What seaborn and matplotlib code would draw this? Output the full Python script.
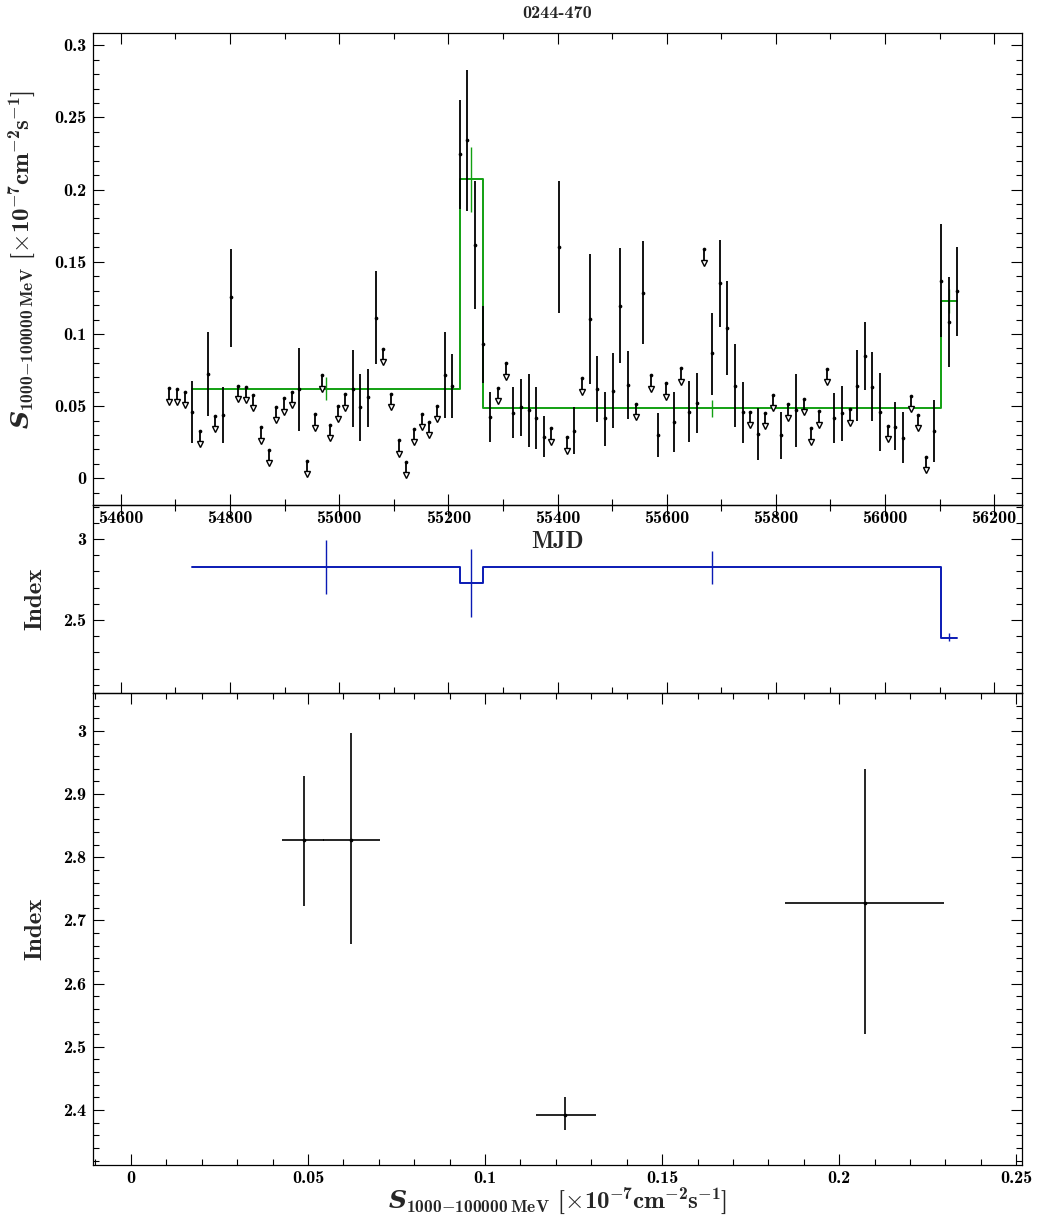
import numpy as np
import matplotlib
matplotlib.use("Agg")
import matplotlib.pyplot as plt
import seaborn as sns
from matplotlib.ticker import MultipleLocator, FuncFormatter

# ---------------- data ----------------
mjd = [54689, 54703, 54717, 54731, 54745, 54759, 54773, 54787, 54801, 54815,
       54829, 54843, 54857, 54871, 54885, 54899, 54913, 54927, 54941, 54955,
       54969, 54983, 54997, 55011, 55025, 55039, 55053, 55067, 55081, 55095,
       55109, 55123, 55137, 55151, 55165, 55179, 55193, 55207, 55221, 55235,
       55249, 55263, 55277, 55291, 55305, 55319, 55333, 55347, 55361, 55375,
       55389, 55403, 55417, 55431, 55445, 55459, 55473, 55487, 55501, 55515,
       55529, 55543, 55557, 55571, 55585, 55599, 55613, 55627, 55641, 55655,
       55669, 55683, 55697, 55711, 55725, 55739, 55753, 55767, 55781, 55795,
       55809, 55823, 55837, 55851, 55865, 55879, 55893, 55907, 55921, 55935,
       55949, 55963, 55977, 55991, 56005, 56019, 56033, 56047, 56061, 56075,
       56089, 56103, 56117, 56131]

# 1 = upper limit, 0 = detection
is_ul = [1, 1, 1, 0, 1, 0, 1, 0, 0, 1,
         1, 1, 1, 1, 1, 1, 1, 0, 1, 1,
         1, 1, 1, 1, 0, 0, 0, 0, 1, 1,
         1, 1, 1, 1, 1, 1, 0, 0, 0, 0,
         0, 0, 0, 1, 1, 0, 0, 0, 0, 0,
         1, 0, 1, 0, 1, 0, 0, 0, 0, 0,
         0, 1, 0, 1, 0, 1, 0, 1, 0, 0,
         1, 0, 0, 0, 0, 0, 1, 0, 1, 1,
         0, 1, 0, 1, 1, 1, 1, 0, 0, 1,
         0, 0, 0, 0, 1, 0, 0, 1, 1, 1,
         0, 0, 0, 0]

flux = [0.0625, 0.0620, 0.0600, 0.0461, 0.0328, 0.0722, 0.0434, 0.0436, 0.1253, 0.0641,
        0.0632, 0.0577, 0.0353, 0.0198, 0.0496, 0.0554, 0.0598, 0.0620, 0.0120, 0.0443,
        0.0713, 0.0369, 0.0503, 0.0582, 0.0620, 0.0494, 0.0565, 0.1112, 0.0898, 0.0586,
        0.0263, 0.0113, 0.0341, 0.0447, 0.0392, 0.0503, 0.0713, 0.0639, 0.2244, 0.2343,
        0.1614, 0.0928, 0.0427, 0.0627, 0.0798, 0.0454, 0.0492, 0.0473, 0.0420, 0.0288,
        0.0346, 0.1604, 0.0284, 0.0330, 0.0693, 0.1103, 0.0620, 0.0415, 0.0607, 0.1195,
        0.0646, 0.0515, 0.1285, 0.0715, 0.0300, 0.0658, 0.0392, 0.0762, 0.0461, 0.0519,
        0.1588, 0.0866, 0.1350, 0.1039, 0.0641, 0.0459, 0.0459, 0.0307, 0.0452, 0.0579,
        0.0300, 0.0512, 0.0473, 0.0551, 0.0346, 0.0464, 0.0759, 0.0418, 0.0450, 0.0478,
        0.0641, 0.0849, 0.0634, 0.0461, 0.0364, 0.0357, 0.0281, 0.0572, 0.0438, 0.0148,
        0.0330, 0.1366, 0.1080, 0.1297]

nan = float("nan")
flux_lo = [nan, nan, nan, 0.0247, nan, 0.0431, nan, 0.0242, 0.0911, nan,
           nan, nan, nan, nan, nan, nan, nan, 0.0330, nan, nan,
           nan, nan, nan, nan, 0.0353, 0.0260, 0.0357, 0.0790, nan, nan,
           nan, nan, nan, nan, nan, nan, 0.0415, 0.0415, 0.1863, 0.1853,
           0.1170, 0.0658, 0.0249, nan, nan, 0.0277, 0.0293, 0.0219, 0.0201, 0.0145,
           nan, 0.1147, nan, 0.0168, nan, 0.0651, 0.0392, 0.0226, 0.0346, 0.0796,
           0.0411, nan, 0.0928, nan, 0.0150, nan, 0.0184, nan, 0.0253, 0.0312,
           nan, 0.0577, 0.1046, 0.0715, 0.0353, 0.0247, nan, 0.0127, nan, nan,
           0.0136, nan, 0.0219, nan, nan, nan, nan, 0.0247, 0.0260, nan,
           0.0397, 0.0611, 0.0397, 0.0191, nan, 0.0196, 0.0104, nan, nan, nan,
           0.0111, 0.0976, 0.0773, 0.0985]

flux_hi = [nan, nan, nan, 0.0674, nan, 0.1013, nan, 0.0632, 0.1590, nan,
           nan, nan, nan, nan, nan, nan, nan, 0.0900, nan, nan,
           nan, nan, nan, nan, 0.0889, 0.0722, 0.0757, 0.1436, nan, nan,
           nan, nan, nan, nan, nan, nan, 0.1013, 0.0861, 0.2620, 0.2828,
           0.2059, 0.1193, 0.0600, nan, nan, 0.0634, 0.0686, 0.0722, 0.0634, 0.0431,
           nan, 0.2059, nan, 0.0492, nan, 0.1551, 0.0849, 0.0600, 0.0868, 0.1593,
           0.0882, nan, 0.1645, nan, 0.0450, nan, 0.0596, nan, 0.0676, 0.0731,
           nan, 0.1143, 0.1650, 0.1368, 0.0928, 0.0669, nan, 0.0485, nan, nan,
           0.0461, nan, 0.0722, nan, nan, nan, nan, 0.0589, 0.0641, nan,
           0.0889, 0.1085, 0.0875, 0.0731, nan, 0.0526, 0.0457, nan, nan, nan,
           0.0542, 0.1759, 0.1392, 0.1600]

# Bayesian blocks
block_edges = [54731, 55221, 55263, 56103, 56131]
block_center = [54976, 55242, 55683, 56117]
block_flux = [0.0622, 0.2073, 0.0488, 0.1227]
block_flux_lo = [0.0542, 0.1846, 0.0428, 0.1143]
block_flux_hi = [0.0702, 0.2295, 0.0545, 0.1312]
block_index = [2.828, 2.728, 2.827, 2.392]
block_index_lo = [2.663, 2.520, 2.723, 2.368]
block_index_hi = [2.996, 2.940, 2.929, 2.420]

title = "0244-470"
flux_label = r"$S_{\mathrm{1000{-}100000\,MeV}}\ [\times10^{-7}\mathrm{cm}^{-2}\mathrm{s}^{-1}]$"

# ---------------- style ----------------
sns.set_style("ticks")
plt.rcParams.update({
    "font.family": ["cmb10", "DejaVu Serif"],
    "mathtext.fontset": "custom",
    "mathtext.rm": "cmb10",
    "mathtext.bf": "cmb10",
    "mathtext.it": "DejaVu Serif:italic:bold",
    "mathtext.fallback": "cm",
    "axes.unicode_minus": False,
    "axes.edgecolor": "black",
    "axes.linewidth": 0.9,
    "xtick.direction": "in",
    "ytick.direction": "in",
    "xtick.top": True,
    "ytick.right": True,
    "xtick.major.size": 8,
    "ytick.major.size": 8,
    "xtick.minor.size": 4.5,
    "ytick.minor.size": 4.5,
    "xtick.major.width": 0.8,
    "ytick.major.width": 0.8,
    "xtick.minor.width": 0.8,
    "ytick.minor.width": 0.8,
    "xtick.color": "black",
    "ytick.color": "black",
    "xtick.labelsize": 13,
    "ytick.labelsize": 13,
    "xtick.major.pad": 4,
    "ytick.major.pad": 5,
})

fig = plt.figure(figsize=(10.37, 12.2), dpi=100)
L, W = 93 / 1037, 929 / 1037
ax1 = fig.add_axes([L, 1 - 505 / 1220, W, 472 / 1220])
ax2 = fig.add_axes([L, 1 - 693 / 1220, W, 188 / 1220])
ax3 = fig.add_axes([L, 1 - 1165 / 1220, W, 472 / 1220])
for a in (ax1, ax2, ax3):
    a.set_facecolor("none")

fmt = FuncFormatter(lambda v, p: "%g" % round(v, 6))

mjd_a = np.array(mjd, dtype=float)
flux_a = np.array(flux)
ul_a = np.array(is_ul, dtype=bool)
lo_a = np.array(flux_lo)
hi_a = np.array(flux_hi)

GREEN = "#12a012"
BLUE = "#0a1ab4"

# ---- top panel: light curve ----
step_levels = block_flux + [block_flux[-1]]
ax1.step(block_edges, step_levels, where="post", color=GREEN, lw=1.4, zorder=2)
ax1.vlines(block_center, block_flux_lo, block_flux_hi, color=GREEN, lw=1.0, zorder=2)

det = ~ul_a
ax1.vlines(mjd_a[det], lo_a[det], hi_a[det], color="black", lw=1.3, zorder=3)
sns.scatterplot(x=mjd_a[det], y=flux_a[det], ax=ax1, color="black", s=7,
                marker="o", linewidth=0, zorder=4, legend=False)

arrow_len = 0.0093
ax1.vlines(mjd_a[ul_a], flux_a[ul_a] - arrow_len * 0.85, flux_a[ul_a], color="black", lw=1.3, zorder=3)
sns.scatterplot(x=mjd_a[ul_a], y=flux_a[ul_a], ax=ax1, color="black", s=7,
                marker="o", linewidth=0, zorder=4, legend=False)
ax1.plot(mjd_a[ul_a], flux_a[ul_a] - arrow_len, linestyle="none", marker="v",
         markersize=5, markerfacecolor="white", markeredgecolor="black",
         markeredgewidth=1.0, zorder=4)

ax1.set_xlim(54549, 56251)
ax1.set_ylim(-0.0185, 0.3085)
ax1.xaxis.set_major_locator(MultipleLocator(200))
ax1.xaxis.set_minor_locator(MultipleLocator(100))
ax1.yaxis.set_major_locator(MultipleLocator(0.05))
ax1.yaxis.set_minor_locator(MultipleLocator(0.01))
ax1.yaxis.set_major_formatter(fmt)
ax1.xaxis.set_major_formatter(fmt)
ax1.set_xlabel("MJD", fontsize=17, labelpad=4)
ax1.set_ylabel(flux_label, fontsize=18)
ax1.yaxis.set_label_coords(-0.060, 0.52)
ax1.set_title(title, fontsize=13, pad=11)

# ---- middle panel: index vs time ----
idx_levels = block_index + [block_index[-1]]
ax2.step(block_edges, idx_levels, where="post", color=BLUE, lw=1.4, zorder=2)
ax2.vlines(block_center, block_index_lo, block_index_hi, color=BLUE, lw=1.0, zorder=2)
ax2.set_xlim(ax1.get_xlim())
ax2.set_ylim(2.05, 3.21)
ax2.xaxis.set_major_locator(MultipleLocator(200))
ax2.xaxis.set_minor_locator(MultipleLocator(100))
ax2.yaxis.set_major_locator(MultipleLocator(0.5))
ax2.yaxis.set_minor_locator(MultipleLocator(0.1))
ax2.yaxis.set_major_formatter(fmt)
ax2.tick_params(axis="x", labelbottom=False)
ax2.set_ylabel("Index", fontsize=18)
ax2.yaxis.set_label_coords(-0.050, 0.5)

# ---- bottom panel: index vs flux ----
fl = np.array(block_flux)
ix = np.array(block_index)
ax3.errorbar(fl, ix,
             xerr=[fl - np.array(block_flux_lo), np.array(block_flux_hi) - fl],
             yerr=[ix - np.array(block_index_lo), np.array(block_index_hi) - ix],
             fmt="none", ecolor="black", elinewidth=1.2, capsize=0, zorder=3)
sns.scatterplot(x=fl, y=ix, ax=ax3, color="black", s=7, marker="o",
                linewidth=0, zorder=4, legend=False)
ax3.set_xlim(-0.0107, 0.2516)
ax3.set_ylim(2.313, 3.06)
ax3.xaxis.set_major_locator(MultipleLocator(0.05))
ax3.xaxis.set_minor_locator(MultipleLocator(0.01))
ax3.yaxis.set_major_locator(MultipleLocator(0.1))
ax3.yaxis.set_minor_locator(MultipleLocator(0.02))
ax3.xaxis.set_major_formatter(fmt)
ax3.yaxis.set_major_formatter(fmt)
ax3.set_xlabel(flux_label, fontsize=18, labelpad=0)
ax3.set_ylabel("Index", fontsize=18)
ax3.yaxis.set_label_coords(-0.050, 0.5)

fig.savefig("out.png", dpi=100)
